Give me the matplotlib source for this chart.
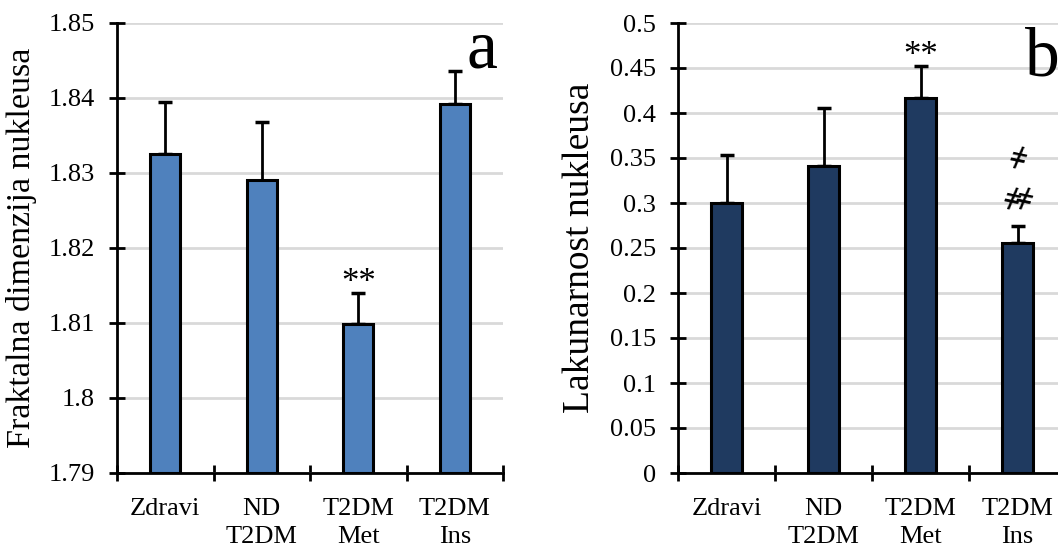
import matplotlib
matplotlib.use("Agg")
import matplotlib.pyplot as plt
import numpy as np

plt.rcParams['font.family'] = ['Liberation Serif', 'DejaVu Serif']

categories = ["Zdravi", "ND\nT2DM", "T2DM\nMet", "T2DM\nIns"]
fd_values = [1.8325, 1.8290, 1.8098, 1.8392]
fd_err = [0.0070, 0.0078, 0.0042, 0.0044]
lac_values = [0.300, 0.341, 0.417, 0.256]
lac_err = [0.053, 0.065, 0.035, 0.018]
fd_ticks = [1.79, 1.80, 1.81, 1.82, 1.83, 1.84, 1.85]
fd_ticklabels = ["1.79", "1.8", "1.81", "1.82", "1.83", "1.84", "1.85"]
lac_ticks = [0, 0.05, 0.1, 0.15, 0.2, 0.25, 0.3, 0.35, 0.4, 0.45, 0.5]
lac_ticklabels = ["0", "0.05", "0.1", "0.15", "0.2", "0.25", "0.3", "0.35", "0.4", "0.45", "0.5"]

W, H = 1058, 546
fig = plt.figure(figsize=(W / 100, H / 100), dpi=100)

def make_axes(rect, values, err, color, ylim, ticks, ticklabels, ylabel, ylabel_size):
    ax = fig.add_axes(rect)
    x = np.arange(len(values))
    ax.bar(x, [v - ylim[0] for v in values], bottom=ylim[0], width=0.31,
           color=color, edgecolor='black', linewidth=2.2, zorder=3)
    ax.errorbar(x, values, yerr=[np.zeros(len(err)), err], fmt='none',
                ecolor='black', elinewidth=2, capsize=5, capthick=2.5, zorder=2)
    ax.set_xlim(-0.5, len(values) - 0.5)
    ax.set_ylim(*ylim)
    ax.set_yticks(ticks)
    ax.set_yticklabels(ticklabels, fontsize=19)
    ax.set_xticks(np.arange(len(values) + 1) - 0.5)
    ax.set_xticklabels([])
    ax.set_xticks(x, minor=True)
    ax.set_xticklabels(categories, minor=True, fontsize=19, linespacing=1.38)
    ax.tick_params(axis='x', which='minor', length=0, pad=18)
    ax.tick_params(axis='both', which='major', direction='inout', length=12, width=2)
    ax.tick_params(axis='y', pad=10)
    ax.yaxis.grid(True, color='#d9d9d9', linewidth=2, zorder=0)
    ax.set_axisbelow(True)
    for s in ['top', 'right']:
        ax.spines[s].set_visible(False)
    for s in ['left', 'bottom']:
        ax.spines[s].set_linewidth(2)
    ax.set_ylabel(ylabel, fontsize=ylabel_size)
    return ax

ax1 = make_axes([117 / W, 1 - 473 / H, 386 / W, 450 / H], fd_values, fd_err, '#4f81bd',
                (1.79, 1.85), fd_ticks, fd_ticklabels, "Fraktalna dimenzija nukleusa", 24.5)
ax2 = make_axes([678 / W, 1 - 473 / H, 388 / W, 450 / H], lac_values, lac_err, '#1f3a60',
                (0, 0.5), lac_ticks, lac_ticklabels, "Lakunarnost nukleusa", 27)
ax1.yaxis.set_label_coords(-0.207, 0.5)
ax2.yaxis.set_label_coords(-0.209, 0.5)

ax1.annotate("**", (2, fd_values[2] + fd_err[2]), xytext=(0, 1), textcoords='offset points',
             ha='center', va='baseline', fontsize=25)
ax2.annotate("**", (2, lac_values[2] + lac_err[2]), xytext=(0, 1), textcoords='offset points',
             ha='center', va='baseline', fontsize=25)
sym_kw = dict(textcoords='offset points', ha='center', va='center', fontsize=23,
              style='italic', family='DejaVu Serif', rotation=-12)
top3 = lac_values[3] + lac_err[3]
ax2.annotate("ǂ", (3, top3), xytext=(-4.5, 18), **sym_kw)
ax2.annotate("ǂ", (3, top3), xytext=(4.5, 18), **sym_kw)
ax2.annotate("ǂ", (3, top3), xytext=(0, 48), **sym_kw)

ax1.text(0.945, 0.902, "a", transform=ax1.transAxes, ha='center', va='baseline', fontsize=50)
ax2.text(0.94, 0.884, "b", transform=ax2.transAxes, ha='center', va='baseline', fontsize=50)

fig.savefig("out.png", dpi=100)
